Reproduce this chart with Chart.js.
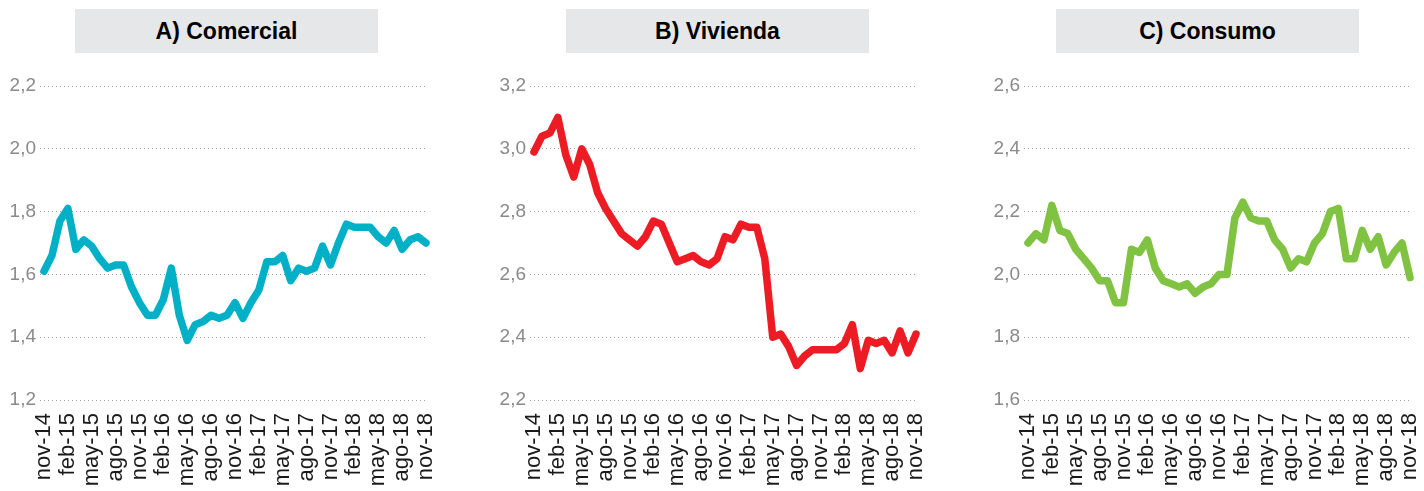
<!DOCTYPE html>
<html>
<head>
<meta charset="utf-8">
<script src="https://cdn.jsdelivr.net/npm/chart.js@4/dist/chart.umd.min.js"></script>
<style>
  body { margin: 0; background: #fff; width: 1424px; height: 491px; overflow: hidden; position: relative; font-family: "Liberation Sans", Arial, sans-serif; }
  .title { position: absolute; top: 9px; height: 44px; line-height: 44px; background: #e6e7e8; text-align: center; font-weight: bold; font-size: 23px; color: #000; }
  .panel { position: absolute; top: 60px; width: 440px; height: 431px; }
</style>
</head>
<body>
<div class="title" style="left:75px;width:303px">A) Comercial</div>
<div class="title" style="left:566px;width:303px">B) Vivienda</div>
<div class="title" style="left:1056px;width:303px">C) Consumo</div>
<div class="panel" style="left:0px"><canvas id="chartA" width="440" height="431"></canvas></div>
<div class="panel" style="left:490px"><canvas id="chartB" width="440" height="431"></canvas></div>
<div class="panel" style="left:984px"><canvas id="chartC" width="440" height="431"></canvas></div>
<script>
// Monthly data, nov-14 .. nov-18
const months = [
    'nov-14', 'dic-14', 'ene-15', 'feb-15', 'mar-15', 'abr-15', 'may-15', 'jun-15', 'jul-15', 'ago-15', 'sep-15', 'oct-15',
    'nov-15', 'dic-15', 'ene-16', 'feb-16', 'mar-16', 'abr-16', 'may-16', 'jun-16', 'jul-16', 'ago-16', 'sep-16', 'oct-16',
    'nov-16', 'dic-16', 'ene-17', 'feb-17', 'mar-17', 'abr-17', 'may-17', 'jun-17', 'jul-17', 'ago-17', 'sep-17', 'oct-17',
    'nov-17', 'dic-17', 'ene-18', 'feb-18', 'mar-18', 'abr-18', 'may-18', 'jun-18', 'jul-18', 'ago-18', 'sep-18', 'oct-18',
    'nov-18'
];

const comercial = [
    1.61, 1.66, 1.77, 1.81, 1.68, 1.71, 1.69, 1.65, 1.62, 1.63, 1.63, 1.56,
    1.51, 1.47, 1.47, 1.52, 1.62, 1.47, 1.39, 1.44, 1.45, 1.47, 1.46, 1.47,
    1.51, 1.46, 1.51, 1.55, 1.64, 1.64, 1.66, 1.58, 1.62, 1.61, 1.62, 1.69,
    1.63, 1.70, 1.76, 1.75, 1.75, 1.75, 1.72, 1.70, 1.74, 1.68, 1.71, 1.72,
    1.70
];

const vivienda = [
    2.99, 3.04, 3.05, 3.10, 2.98, 2.91, 3.00, 2.95, 2.86, 2.81, 2.77, 2.73,
    2.71, 2.69, 2.72, 2.77, 2.76, 2.70, 2.64, 2.65, 2.66, 2.64, 2.63, 2.65,
    2.72, 2.71, 2.76, 2.75, 2.75, 2.65, 2.40, 2.41, 2.37, 2.31, 2.34, 2.36,
    2.36, 2.36, 2.36, 2.38, 2.44, 2.30, 2.39, 2.38, 2.39, 2.35, 2.42, 2.35,
    2.41
];

const consumo = [
    2.10, 2.13, 2.11, 2.22, 2.14, 2.13, 2.08, 2.05, 2.02, 1.98, 1.98, 1.91,
    1.91, 2.08, 2.07, 2.11, 2.02, 1.98, 1.97, 1.96, 1.97, 1.94, 1.96, 1.97,
    2.00, 2.00, 2.18, 2.23, 2.18, 2.17, 2.17, 2.11, 2.08, 2.02, 2.05, 2.04,
    2.10, 2.13, 2.20, 2.21, 2.05, 2.05, 2.14, 2.08, 2.12, 2.03, 2.07, 2.10,
    1.99
];

const yTicksA = [1.2, 1.4, 1.6, 1.8, 2.0, 2.2];
const yTicksB = [2.2, 2.4, 2.6, 2.8, 3.0, 3.2];
const yTicksC = [1.6, 1.8, 2.0, 2.2, 2.4, 2.6];

const FONT = '"Liberation Sans", Arial, sans-serif';

function makeChart(id, values, color, yTicks) {
    const ctx = document.getElementById(id).getContext('2d');
    return new Chart(ctx, {
        type: 'line',
        data: {
            datasets: [{
                data: values.map((v, i) => ({ x: i, y: v })),
                borderColor: color,
                borderWidth: 7.5,
                borderJoinStyle: 'round',
                borderCapStyle: 'round',
                pointRadius: 0,
                tension: 0,
                fill: false,
                clip: false
            }]
        },
        options: {
            responsive: false,
            animation: false,
            layout: { padding: { top: 26, right: 14, left: 0, bottom: 0 } },
            plugins: {
                legend: { display: false },
                tooltip: { enabled: false }
            },
            scales: {
                x: {
                    type: 'linear',
                    min: -0.5,
                    max: months.length - 1,
                    grid: { display: false },
                    border: { display: false },
                    afterBuildTicks: (axis) => {
                        axis.ticks = months.map((m, i) => ({ value: i })).filter(t => t.value % 3 === 0);
                    },
                    afterFit: (axis) => {
                        axis.height = 91;
                        // labels are vertical, keep the plot width fixed
                        axis.paddingLeft = 0;
                        axis.paddingRight = 0;
                    },
                    ticks: {
                        autoSkip: false,
                        minRotation: 90,
                        maxRotation: 90,
                        padding: 5,
                        color: '#1a1a1a',
                        font: { family: FONT, size: 22 },
                        callback: (v) => months[v]
                    }
                },
                y: {
                    min: yTicks[0],
                    max: yTicks[yTicks.length - 1],
                    afterBuildTicks: (axis) => {
                        axis.ticks = yTicks.map(v => ({ value: v }));
                    },
                    afterFit: (axis) => { axis.width = 40; },
                    grid: { color: '#a0a0a0', lineWidth: 1, drawTicks: false },
                    border: { display: false, dash: [1, 3] },
                    ticks: {
                        padding: 4,
                        color: '#8a8a8a',
                        font: { family: FONT, size: 19 },
                        callback: (v) => v.toFixed(1).replace('.', ',')
                    }
                }
            }
        }
    });
}

makeChart('chartA', comercial, '#00b0c7', yTicksA);
makeChart('chartB', vivienda, '#ed1c24', yTicksB);
makeChart('chartC', consumo, '#80c241', yTicksC);
</script>
</body>
</html>
